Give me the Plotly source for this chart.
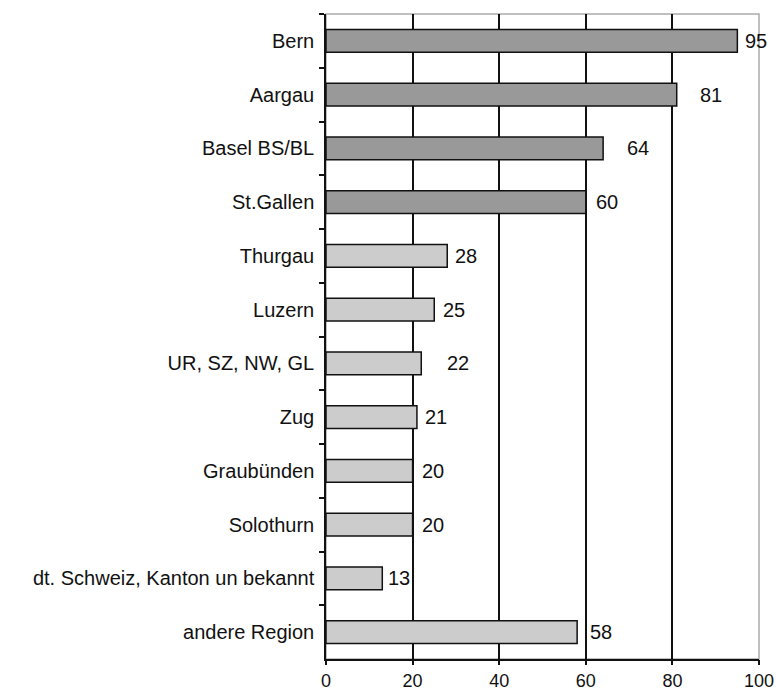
import plotly.graph_objects as go

# Herkunft nach Region
regions = [
    "Bern", "Aargau", "Basel BS/BL", "St.Gallen", "Thurgau", "Luzern",
    "UR, SZ, NW, GL", "Zug", "Graubünden", "Solothurn",
    "dt. Schweiz, Kanton un bekannt", "andere Region",
]
counts = [95, 81, 64, 60, 28, 25, 22, 21, 20, 20, 13, 58]
groups = ["top"] * 4 + ["rest"] * 8
x_ticks = [0, 20, 40, 60, 80, 100]

group_colors = {"top": "#999999", "rest": "#cccccc"}
label_gap = [6, 21, 22, 8, 6, 7, 24, 6, 7, 7, 4, 11]

FONT = "Liberation Sans"
SIZE = 20
fig = go.Figure()
fig.add_trace(go.Bar(
    x=counts,
    y=regions,
    orientation="h",
    width=0.42,
    marker=dict(
        color=[group_colors[g] for g in groups],
        line=dict(color="#111111", width=1.5),
    ),
    hoverinfo="x+y",
))

for reg, val, gap in zip(regions, counts, label_gap):
    fig.add_annotation(
        x=val, y=reg, xref="x", yref="y",
        text=str(val), showarrow=False,
        xanchor="left", yanchor="middle", xshift=gap,
        font=dict(family=FONT, size=SIZE, color="#111111"),
    )

# light frame on top and right
fig.add_shape(
    type="rect", xref="x domain", yref="y domain",
    x0=0, x1=1, y0=0, y1=1,
    line=dict(color="#aaaaaa", width=1.5), layer="below",
)

fig.update_layout(
    width=776, height=690,
    margin=dict(l=326, r=17, t=14, b=31, autoexpand=False),
    paper_bgcolor="white", plot_bgcolor="white",
    showlegend=False,
    font=dict(family=FONT, size=SIZE, color="#111111"),
)
# gridlines only at the inner ticks
fig.update_xaxes(
    range=[0, 100], tickvals=x_ticks[1:-1], showticklabels=False,
    showgrid=True, gridcolor="#111111", gridwidth=1.5,
    showline=True, linecolor="#111111", linewidth=1.5,
    ticks="", zeroline=False, automargin=False,
)
# tick marks and labels on the bottom, including the right end
fig.update_layout(xaxis2=dict(
    overlaying="x", side="bottom", anchor="y", matches="x",
    range=[0, 100], tickvals=x_ticks,
    showgrid=False, showline=False, zeroline=False,
    ticks="outside", ticklen=5, tickwidth=1.5, tickcolor="#111111",
    tickfont=dict(size=18), automargin=False,
))
fig.add_trace(go.Scatter(x=[0, 100], y=[regions[0], regions[0]],
                         xaxis="x2", mode="markers",
                         marker=dict(opacity=0), hoverinfo="skip"))
fig.update_yaxes(
    range=[len(regions) - 0.5, -0.5], type="category",
    showgrid=False,
    showline=True, linecolor="#111111", linewidth=1.5,
    ticks="outside", tickson="boundaries", ticklen=5, tickwidth=1.5,
    tickcolor="#111111", ticklabelstandoff=6, automargin=False,
)

fig.write_html("out.html")
